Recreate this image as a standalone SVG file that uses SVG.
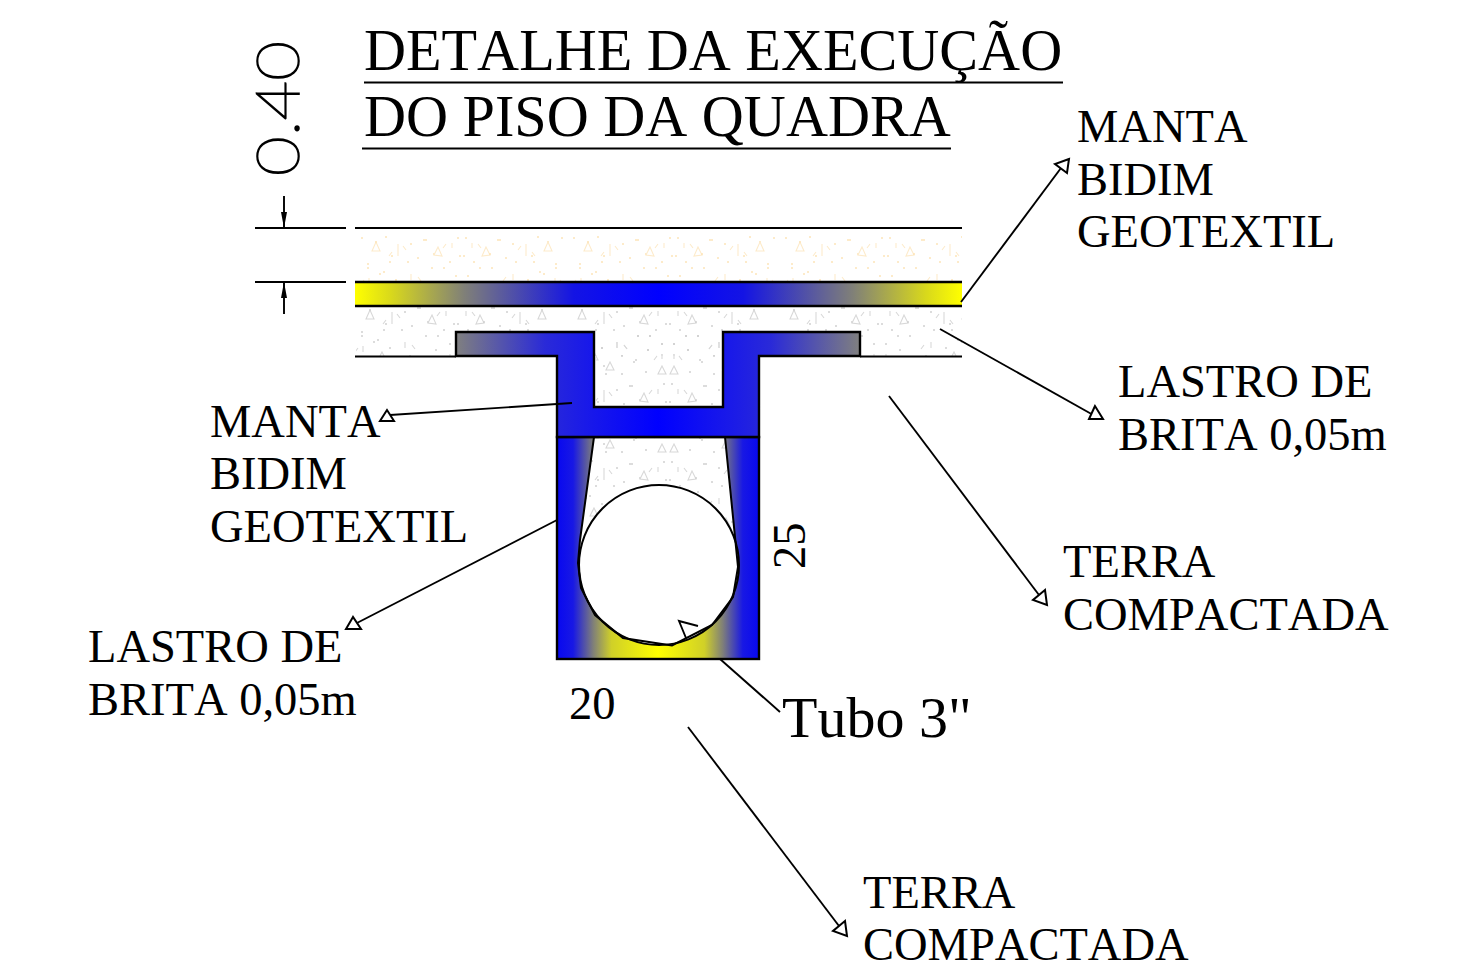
<svg xmlns="http://www.w3.org/2000/svg" width="1481" height="973" viewBox="0 0 1481 973">
<style>
text{font-family:"Liberation Serif","Times New Roman",serif;fill:#000;font-kerning:none}
.lb{font-size:46.5px}
.ti{font-size:58.2px}
.ln{stroke:#000;stroke-width:1.9;fill:none}
.sh{stroke:#000;stroke-width:2.6}
.ah{fill:#fff;stroke:#000;stroke-width:2}
.dim{stroke:#000;stroke-width:1.9;fill:none}
</style>
<defs>
<g id="speck">
<g fill="none" stroke-width="1.1">
<path d="M20,10l-4,9l8,0z M130,15l-4,9l8,-1z M180,52l-4,8l8,0z M48,62l-4,8l8,0z M112,66l-4,8l8,0z"/>
<path d="M36,20l-3,4 M42,18l0,6 M90,12l-3,4 M96,11l0,5 M150,45l-3,4 M157,42l0,6 M8,48l-3,4 M13,46l0,6 M165,14l-3,4 M170,12l0,6 M95,56l-3,4 M100,54l0,5"/>
</g>
<g stroke="none" fill="currentColor">
<circle cx="6" cy="6" r="1"/><circle cx="30" cy="5" r="1"/><circle cx="55" cy="12" r="1"/><circle cx="62" cy="26" r="1"/><circle cx="70" cy="8" r="1"/><circle cx="110" cy="6" r="1"/><circle cx="118" cy="30" r="1"/><circle cx="144" cy="8" r="1"/><circle cx="160" cy="30" r="1"/><circle cx="192" cy="10" r="1"/><circle cx="200" cy="36" r="1"/><circle cx="12" cy="32" r="1"/><circle cx="28" cy="40" r="1"/><circle cx="40" cy="48" r="1"/><circle cx="60" cy="56" r="1"/><circle cx="88" cy="36" r="1"/><circle cx="100" cy="44" r="1"/><circle cx="126" cy="50" r="1"/><circle cx="138" cy="60" r="1"/><circle cx="170" cy="66" r="1"/><circle cx="196" cy="68" r="1"/><circle cx="18" cy="68" r="1"/><circle cx="84" cy="72" r="1"/><circle cx="152" cy="74" r="1"/><circle cx="34" cy="30" r="1"/><circle cx="78" cy="22" r="1"/><circle cx="104" cy="24" r="1"/><circle cx="136" cy="36" r="1"/><circle cx="176" cy="24" r="1"/><circle cx="188" cy="42" r="1"/><circle cx="44" cy="74" r="1"/><circle cx="72" cy="62" r="1"/>
</g>
</g>
<g id="specks">
<use href="#speck"/>
<use href="#speck" transform="translate(212,0) scale(-1,1)"/>
</g>
<pattern id="sand" patternUnits="userSpaceOnUse" x="356" y="232" width="212" height="78"><use href="#specks" stroke="#fdebcb" color="#fde4b8"/></pattern>
<pattern id="grit" patternUnits="userSpaceOnUse" x="350" y="300" width="212" height="78"><use href="#specks" stroke="#d8d8d8" color="#d0d0d0"/></pattern>
<linearGradient id="gBar" gradientUnits="userSpaceOnUse" x1="355" y1="0" x2="962" y2="0">
<stop offset="0" stop-color="#ff0"/><stop offset=".06" stop-color="#d8d81c"/><stop offset=".18" stop-color="#808078"/><stop offset=".36" stop-color="#1414e4"/><stop offset=".5" stop-color="#00f"/><stop offset=".64" stop-color="#1414e4"/><stop offset=".82" stop-color="#808078"/><stop offset=".94" stop-color="#d8d81c"/><stop offset="1" stop-color="#ff0"/>
</linearGradient>
<linearGradient id="gT" gradientUnits="userSpaceOnUse" x1="456" y1="0" x2="860" y2="0">
<stop offset="0" stop-color="#80807f"/><stop offset=".22" stop-color="#2a2ad8"/><stop offset=".32" stop-color="#1a1ae8"/><stop offset=".5" stop-color="#00f"/><stop offset=".68" stop-color="#1a1ae8"/><stop offset=".78" stop-color="#2a2ad8"/><stop offset="1" stop-color="#80807f"/>
</linearGradient>
<linearGradient id="gBox" gradientUnits="userSpaceOnUse" x1="557" y1="0" x2="759" y2="0">
<stop offset="0" stop-color="#0808f0"/><stop offset=".08" stop-color="#1818e4"/><stop offset=".18" stop-color="#808078"/><stop offset=".27" stop-color="#d0d028"/><stop offset=".5" stop-color="#ff0"/><stop offset=".73" stop-color="#d0d028"/><stop offset=".82" stop-color="#808078"/><stop offset=".92" stop-color="#1818e4"/><stop offset="1" stop-color="#0808f0"/>
</linearGradient>
</defs>
<rect width="1481" height="973" fill="#fff"/>

<g id="title">
<text class="ti" x="364" y="70">DETALHE DA EXECUÇÃO</text>
<text class="ti" x="364" y="136">DO PISO DA QUADRA</text>
<path class="ln" d="M364,82.500H1063 M362,148.500H951"/>
</g>

<g id="layer-sand">
<rect x="356" y="229" width="606" height="53" fill="url(#sand)"/>
<path class="ln" d="M355,228H962"/>
</g>
<g id="layer-grit">
<rect x="356" y="307" width="606" height="49" fill="url(#grit)"/>
<path class="ln" d="M355,356.500H456 M860,356.500H962"/>
</g>
<g id="manta-bar">
<rect x="355" y="282" width="607" height="24" fill="url(#gBar)"/>
<path class="sh" d="M355,282H962 M355,306H962"/>
</g>
<g id="drain-box">
<rect x="557" y="437" width="202" height="222" fill="url(#gBox)"/>
<path d="M594,437L580,540L578,563L581,588L595,615L623,638L672,645.500L712,625L733,597L738,567L725,437Z" fill="#fff"/>
<path d="M594,437L580,540L578,563L581,588L595,615L623,638L672,645.500L712,625L733,597L738,567L725,437Z" fill="url(#grit)"/>
<circle cx="659" cy="565" r="80" fill="#fff" stroke="#000" stroke-width="2"/>
<path d="M594,437L580,540L578,563L581,588L595,615L623,638L662,644L672,645.500L712,625L733,597L738,567L725,437" fill="none" stroke="#000" stroke-width="2"/>
<rect x="557" y="437" width="202" height="222" fill="none" stroke="#000" stroke-width="2.400"/>
</g>
<g id="manta-t">
<path d="M456,332H594V407H723V332H860V356H759V437H557V356H456Z" fill="url(#gT)" stroke="#000" stroke-width="2.400"/>
</g>
<rect x="596" y="333" width="126" height="73" fill="url(#grit)"/>

<g id="connectors">
<path class="ln" d="M961,302L1061,168"/><path class="ah" d="M1069,159L1055,164L1067,173Z"/>
<path class="ln" d="M940,329L1095,416"/><path class="ah" d="M1095,406L1089,419L1103,419Z"/>
<path class="ln" d="M889,396L1039,595"/><path class="ah" d="M1045,590L1033,600L1047,605Z"/>
<path class="ln" d="M572,403L390,415"/><path class="ah" d="M387,410L380,421L394,421Z"/>
<path class="ln" d="M557,520L355,624"/><path class="ah" d="M353,617L346,629L361,629Z"/>
<path class="ln" d="M688,727L839,926"/><path class="ah" d="M845,921L833,931L847,936Z"/>
<path class="ln" d="M720,659L780,712"/>
<path class="ln" d="M686,638L679,621L698,626"/>
</g>

<g id="dimension">
<path class="dim" d="M255,228H346 M255,282H346 M284,196V228 M284,282V314"/>
<path d="M284,228l-3,-16h6z M284,282l-3,16h6z" fill="#000"/>
<text transform="translate(299,176) rotate(-90)" font-size="59" textLength="135" lengthAdjust="spacingAndGlyphs" stroke="#000" stroke-width="1.6" style="font-family:'Lato','DejaVu Sans',sans-serif;font-weight:100">0.40</text>
</g>

<g id="label-manta-top" class="lb"><text x="1077" y="142">MANTA</text><text x="1077" y="195">BIDIM</text><text x="1077" y="247">GEOTEXTIL</text></g>
<g id="label-lastro-right" class="lb"><text x="1118" y="397">LASTRO DE</text><text x="1118" y="450">BRITA 0,05m</text></g>
<g id="label-terra-right" class="lb"><text x="1063" y="577">TERRA</text><text x="1063" y="630">COMPACTADA</text></g>
<g id="label-manta-left" class="lb"><text x="210" y="437">MANTA</text><text x="210" y="489">BIDIM</text><text x="210" y="542">GEOTEXTIL</text></g>
<g id="label-lastro-left" class="lb"><text x="88" y="662">LASTRO DE</text><text x="88" y="715">BRITA 0,05m</text></g>
<g id="label-terra-bottom" class="lb"><text x="863" y="908">TERRA</text><text x="863" y="960">COMPACTADA</text></g>
<g id="label-20" class="lb"><text x="569" y="719">20</text></g>
<g id="label-25" class="lb"><text transform="translate(805,569) rotate(-90)">25</text></g>
<g id="label-tubo"><text x="782" y="737" font-size="58">Tubo 3"</text></g>
</svg>
